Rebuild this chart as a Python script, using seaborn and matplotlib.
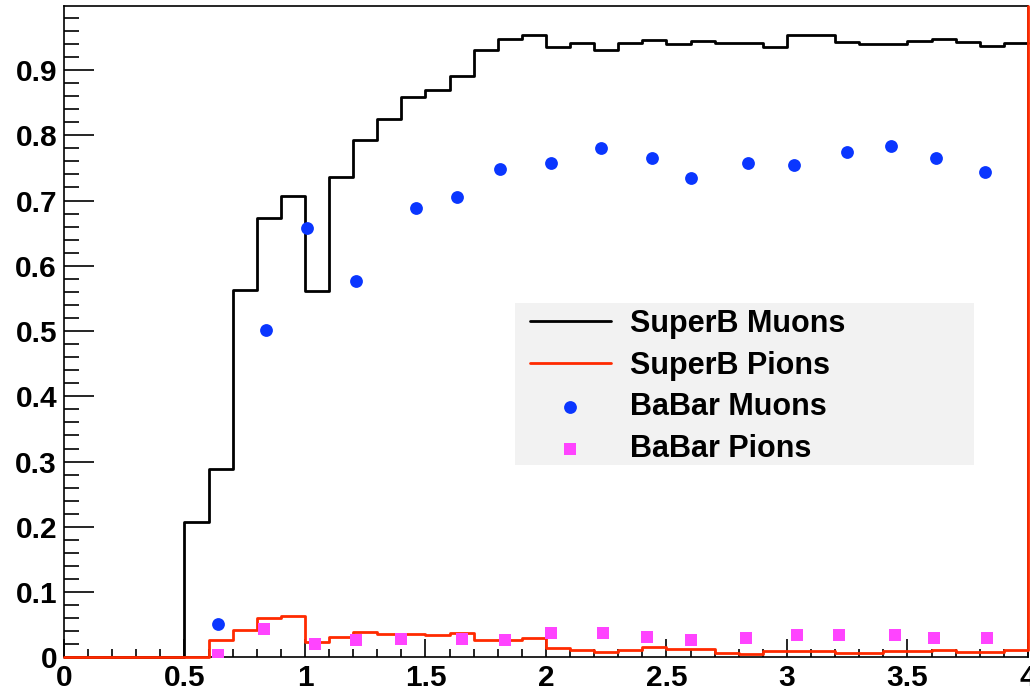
import numpy as np
import matplotlib
matplotlib.use("Agg")
import matplotlib.pyplot as plt
import seaborn as sns
from matplotlib.ticker import MultipleLocator, FixedLocator, FixedFormatter
from matplotlib.patches import Rectangle

# ---------------- data ----------------
bin_edges = np.linspace(0.0, 4.0, 41)

superb_muons = [0, 0, 0, 0, 0,
                0.208, 0.288, 0.563, 0.673, 0.707,
                0.561, 0.736, 0.793, 0.825, 0.859, 0.870, 0.891, 0.931, 0.948, 0.953,
                0.936, 0.941, 0.931, 0.941, 0.946, 0.940, 0.945, 0.941, 0.941, 0.936,
                0.953, 0.953, 0.943, 0.940, 0.940, 0.944, 0.947, 0.943, 0.937, 0.942]

superb_pions = [0, 0, 0, 0, 0, 0,
                0.0265, 0.042, 0.061, 0.064,
                0.023, 0.0316, 0.0388, 0.036, 0.035, 0.034, 0.0378, 0.0265, 0.0265, 0.030,
                0.0138, 0.011, 0.0086, 0.011, 0.016, 0.012, 0.013, 0.007, 0.0046, 0.010,
                0.010, 0.010, 0.007, 0.007, 0.010, 0.009, 0.011, 0.0086, 0.0086, 0.011]
superb_pions_overflow = 0.9986

babar_muon_x = [0.64, 0.84, 1.01, 1.21, 1.46, 1.63, 1.81, 2.02, 2.23, 2.44,
                2.60, 2.84, 3.03, 3.25, 3.43, 3.62, 3.82]
babar_muon_y = [0.051, 0.502, 0.658, 0.577, 0.688, 0.706, 0.749, 0.757, 0.781, 0.765,
                0.735, 0.757, 0.7545, 0.775, 0.7836, 0.765, 0.743]

babar_pion_x = [0.64, 0.83, 1.04, 1.21, 1.40, 1.65, 1.83, 2.02, 2.235, 2.42,
                2.60, 2.83, 3.04, 3.215, 3.45, 3.61, 3.83]
babar_pion_y = [0.0035, 0.043, 0.020, 0.0265, 0.0285, 0.0285, 0.0265, 0.0368, 0.0368, 0.031,
                0.0265, 0.029, 0.034, 0.034, 0.034, 0.029, 0.029]

x_ticks = [0, 0.5, 1, 1.5, 2, 2.5, 3, 3.5, 4]
x_tick_labels = ["0", "0.5", "1", "1.5", "2", "2.5", "3", "3.5", "4"]
y_ticks = [0, 0.1, 0.2, 0.3, 0.4, 0.5, 0.6, 0.7, 0.8, 0.9]
y_tick_labels = ["0", "0.1", "0.2", "0.3", "0.4", "0.5", "0.6", "0.7", "0.8", "0.9"]

series_labels = ["SuperB Muons", "SuperB Pions", "BaBar Muons", "BaBar Pions"]

# ---------------- style ----------------
sns.set_style("white")
plt.rcParams["font.family"] = ["Liberation Sans", "DejaVu Sans"]
plt.rcParams["font.weight"] = "bold"
plt.rcParams["text.color"] = "black"
plt.rcParams["xtick.color"] = "black"
plt.rcParams["ytick.color"] = "black"
plt.rcParams["axes.labelcolor"] = "black"

fig = plt.figure(figsize=(10.30, 6.92), dpi=100)
ax = fig.add_axes([0.0621, 0.0501, 0.998 - 0.0621, 0.9918 - 0.0501])

black = "#000000"
red = "#ff2a00"
blue = "#0a36ff"
magenta = "#ff44ff"

mu_y = np.append(superb_muons, superb_muons[-1])
pi_y = np.append(superb_pions, superb_pions_overflow)

# legend background box
ax.add_patch(Rectangle((0.468, 0.295), 0.476, 0.248, transform=ax.transAxes,
                       facecolor="#f2f2f2", edgecolor="none", zorder=1))

sns.lineplot(x=bin_edges, y=mu_y, drawstyle="steps-post", color=black,
             linewidth=2.0, label=series_labels[0], ax=ax, zorder=3)
sns.lineplot(x=bin_edges, y=pi_y, drawstyle="steps-post", color=red,
             linewidth=2.0, label=series_labels[1], ax=ax, zorder=4)
sns.scatterplot(x=babar_muon_x, y=babar_muon_y, color=blue, marker="o", s=85,
                linewidth=0, label=series_labels[2], ax=ax, zorder=5)
sns.scatterplot(x=babar_pion_x, y=babar_pion_y, color=magenta, marker="s", s=85,
                linewidth=0, label=series_labels[3], ax=ax, zorder=5)

for ln in ax.get_lines():
    ln.set_clip_on(False)

ax.set_xlim(0, 4)
ax.set_ylim(0, 0.9986)

ax.xaxis.set_major_locator(FixedLocator(x_ticks))
ax.xaxis.set_major_formatter(FixedFormatter(x_tick_labels))
ax.xaxis.set_minor_locator(MultipleLocator(0.1))
ax.yaxis.set_major_locator(FixedLocator(y_ticks))
ax.yaxis.set_major_formatter(FixedFormatter(y_tick_labels))
ax.yaxis.set_minor_locator(MultipleLocator(0.02))

ax.tick_params(axis="y", which="major", direction="in", length=21.5, width=1.2,
               color="black", labelcolor="black", labelsize=21.5, pad=5,
               left=True, right=False)
ax.tick_params(axis="y", which="minor", direction="in", length=10.8, width=1.2,
               color="black", left=True, right=False)
ax.tick_params(axis="x", which="major", direction="in", length=13, width=1.2,
               color="black", labelcolor="black", labelsize=21.5, pad=5,
               bottom=True, top=False)
ax.tick_params(axis="x", which="minor", direction="in", length=5.8, width=1.2,
               color="black", bottom=True, top=False)
for lab in ax.get_xticklabels() + ax.get_yticklabels():
    lab.set_fontweight("bold")

for side in ["left", "bottom", "top", "right"]:
    ax.spines[side].set_visible(True)
    ax.spines[side].set_color("black")
    ax.spines[side].set_linewidth(1.2)

ax.set_xlabel("")
ax.set_ylabel("")

leg = ax.legend(loc="upper left", bbox_to_anchor=(0.4834, 0.5346),
                frameon=False, borderpad=0.0, borderaxespad=0.0,
                labelspacing=0.38, handlelength=2.65, handletextpad=0.62,
                prop={"size": 22, "weight": "bold"}, markerscale=1.0)
for t in leg.get_texts():
    t.set_color("black")

fig.savefig("out.png", dpi=100)
